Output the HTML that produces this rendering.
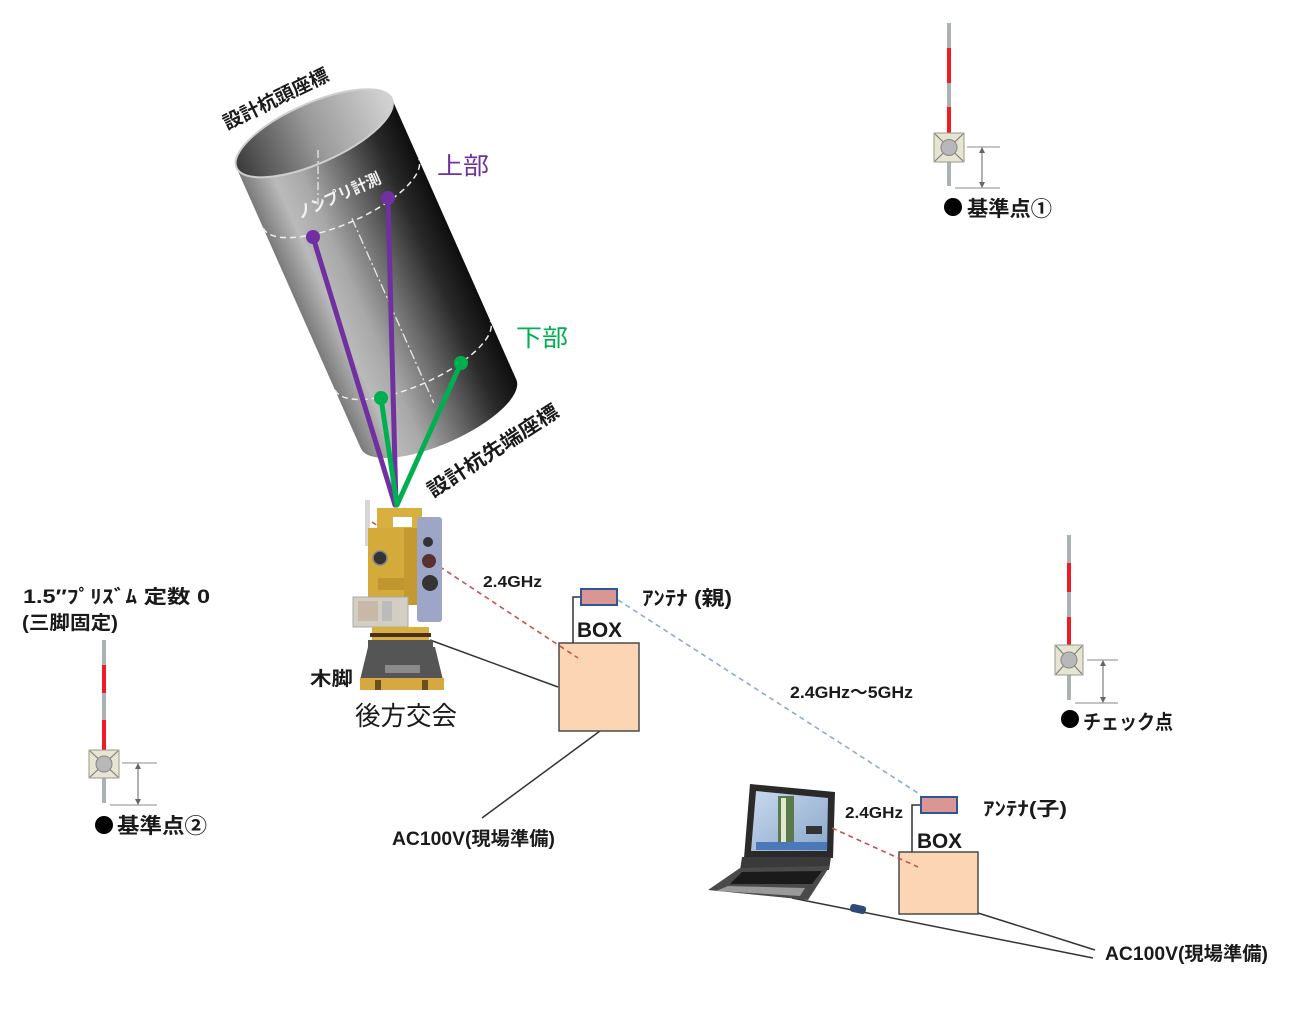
<!DOCTYPE html>
<html><head><meta charset="utf-8"><style>
html,body{margin:0;padding:0;background:#fff;}
svg{display:block;}
text{font-family:"Liberation Sans","Noto Sans CJK JP",sans-serif;}
</style></head><body>
<svg width="1298" height="1012" viewBox="0 0 1298 1012" xmlns="http://www.w3.org/2000/svg">
<defs>
<linearGradient id="body" gradientUnits="userSpaceOnUse" x1="-85" y1="0" x2="85" y2="0">
<stop offset="0" stop-color="#7a7a7a"/><stop offset="0.18" stop-color="#bababa"/><stop offset="0.34" stop-color="#a8a8a8"/><stop offset="0.58" stop-color="#6a6a6a"/><stop offset="0.82" stop-color="#2a2a2a"/><stop offset="1" stop-color="#0e0e0e"/>
</linearGradient>
<linearGradient id="inner" gradientUnits="userSpaceOnUse" x1="-85" y1="0" x2="85" y2="0">
<stop offset="0" stop-color="#3a3a3a"/><stop offset="0.5" stop-color="#9a9a9a"/><stop offset="1" stop-color="#d4d4d4"/>
</linearGradient>
<linearGradient id="scr" x1="0" y1="0" x2="1" y2="1">
<stop offset="0" stop-color="#c8d8ec"/><stop offset="1" stop-color="#8aa8cc"/>
</linearGradient>
</defs>

<!-- Cylinder -->
<g transform="translate(377,275) rotate(-23.9)">
<path d="M-85,-155 L-85,152 A85,30 0 0 0 85,152 L85,-155 Z" fill="url(#body)"/>
<ellipse cx="0" cy="-155" rx="85" ry="30" fill="url(#inner)" stroke="#cfcfcf" stroke-width="2"/>
<path d="M-85,-89 A85,30 0 0 0 85,-89" fill="none" stroke="#eeeeee" stroke-width="1.5" stroke-dasharray="6,4"/>
<path d="M-85,88 A85,30 0 0 0 85,88" fill="none" stroke="#eeeeee" stroke-width="1.5" stroke-dasharray="6,4"/>
<line x1="0" y1="-62" x2="0" y2="140" stroke="#e8e8e8" stroke-width="1.3" stroke-dasharray="10,3,2,3"/>
</g>
<line x1="318" y1="150" x2="318" y2="205" stroke="#e8e8e8" stroke-width="1.3" stroke-dasharray="8,3,2,3"/>
<text transform="translate(300,219) rotate(-24)" font-size="16" font-weight="bold" fill="#f2f2f2" textLength="90" lengthAdjust="spacingAndGlyphs">ノンプリ計測</text>

<!-- measurement lines -->
<g stroke-linecap="round">
<line x1="313" y1="237" x2="395" y2="505" stroke="#7030a0" stroke-width="5"/>
<line x1="388" y1="198" x2="396" y2="505" stroke="#7030a0" stroke-width="5"/>
<line x1="381" y1="398" x2="397" y2="505" stroke="#00b050" stroke-width="5"/>
<line x1="461" y1="363" x2="397" y2="505" stroke="#00b050" stroke-width="5"/>
</g>
<circle cx="313" cy="237" r="7" fill="#7030a0"/>
<circle cx="388" cy="198" r="7" fill="#7030a0"/>
<circle cx="381" cy="398" r="7" fill="#00b050"/>
<circle cx="461" cy="363" r="7" fill="#00b050"/>

<!-- cylinder labels -->
<text transform="translate(227,130) rotate(-26)" font-size="19" font-weight="bold" fill="#1a1a1a" textLength="115" lengthAdjust="spacingAndGlyphs">設計杭頭座標</text>
<text transform="translate(433,498) rotate(-33)" font-size="20" font-weight="bold" fill="#1a1a1a" textLength="152" lengthAdjust="spacingAndGlyphs">設計杭先端座標</text>
<text x="437" y="174" font-size="24" fill="#7030a0" textLength="52" lengthAdjust="spacingAndGlyphs">上部</text>
<text x="516" y="346" font-size="24" fill="#00b050" textLength="52" lengthAdjust="spacingAndGlyphs">下部</text>

<!-- BOX1 and cables -->
<line x1="430" y1="640" x2="558" y2="687" stroke="#333" stroke-width="1.5"/>
<line x1="600" y1="731" x2="482" y2="818" stroke="#333" stroke-width="1.5"/>
<rect x="559" y="643" width="80" height="88" fill="#fcd5b4" stroke="#4a4a4a" stroke-width="1.5"/>
<polyline points="581,597 573,597 573,643" fill="none" stroke="#333" stroke-width="1.5"/>
<rect x="581" y="589" width="36" height="16" fill="#d99694" stroke="#2f5597" stroke-width="2"/>
<line x1="372" y1="522" x2="578" y2="658" stroke="#c9504d" stroke-width="1.6" stroke-dasharray="5,4"/>
<line x1="618" y1="600" x2="921" y2="795" stroke="#8eaad2" stroke-width="1.6" stroke-dasharray="5,4"/>

<!-- Total station -->
<rect x="365" y="500" width="5" height="46" fill="#d6d6d6"/>
<rect x="377" y="508" width="45" height="22" fill="#d8b040"/>
<rect x="393" y="517" width="19" height="10" fill="#ffffff"/>
<rect x="368" y="528" width="54" height="77" fill="#d4aa3a"/>
<rect x="404" y="528" width="14" height="77" fill="#c49a30"/>
<circle cx="380" cy="558" r="7" fill="#333" stroke="#888" stroke-width="1.5"/>
<rect x="378" y="578" width="26" height="12" fill="#bf9630"/>
<rect x="417" y="517" width="25" height="105" rx="3" fill="#9ea6c8"/>
<circle cx="428" cy="542" r="5" fill="#333"/>
<circle cx="429" cy="561" r="7" fill="#5a3030"/>
<circle cx="430" cy="583" r="8" fill="#333"/>
<rect x="353" y="597" width="55" height="30" fill="#d2cec4" stroke="#aaa"/>
<rect x="358" y="601" width="20" height="20" fill="#c8b8a8"/>
<rect x="382" y="601" width="10" height="20" fill="#bbb"/>
<rect x="372" y="627" width="57" height="15" fill="#d8b040"/>
<rect x="370" y="633" width="61" height="4" fill="#4a3020"/>
<rect x="368" y="640" width="65" height="7" fill="#555"/>
<polygon points="368,647 435,647 443,680 360,680" fill="#555"/>
<rect x="385" y="665" width="35" height="8" fill="#8a8a8a"/>
<rect x="360" y="678" width="84" height="12" fill="#d8a840"/>
<rect x="375" y="680" width="6" height="10" fill="#6a5020"/>
<rect x="422" y="680" width="6" height="10" fill="#6a5020"/>

<text x="310" y="685" font-size="19" font-weight="bold" fill="#1a1a1a" textLength="43" lengthAdjust="spacingAndGlyphs">木脚</text>
<text x="355" y="725" font-size="26" fill="#1a1a1a" textLength="102" lengthAdjust="spacingAndGlyphs">後方交会</text>

<!-- Texts near BOX1 -->
<text x="483" y="587" font-size="16" font-weight="bold" fill="#1a1a1a" textLength="59" lengthAdjust="spacingAndGlyphs">2.4GHz</text>
<text x="577" y="637" font-size="21" font-weight="bold" fill="#1a1a1a" textLength="45" lengthAdjust="spacingAndGlyphs">BOX</text>
<text x="642" y="605" font-size="20" font-weight="bold" fill="#1a1a1a" textLength="90" lengthAdjust="spacingAndGlyphs">ｱﾝﾃﾅ (親)</text>
<text x="790" y="698" font-size="17" font-weight="bold" fill="#1a1a1a" textLength="123" lengthAdjust="spacingAndGlyphs">2.4GHz〜5GHz</text>
<text x="392" y="845" font-size="19" font-weight="bold" fill="#1a1a1a" textLength="163" lengthAdjust="spacingAndGlyphs">AC100V(現場準備)</text>

<!-- Laptop + BOX2 -->
<line x1="792" y1="898" x2="1093" y2="958" stroke="#333" stroke-width="1.5"/>
<line x1="978" y1="913" x2="1095" y2="950" stroke="#333" stroke-width="1.5"/>
<rect x="850" y="905" width="16" height="8" rx="3" fill="#2f4a7a" transform="rotate(12 858 909)"/>
<polygon points="750,784 835,792 833,858 744,858" fill="#2a2a2a"/>
<polygon points="756,791 828,798 827,851 751,851" fill="url(#scr)"/>
<rect x="778" y="796" width="16" height="54" fill="#5a7a4a"/>
<rect x="781" y="798" width="5" height="50" fill="#e0e8d0"/>
<rect x="756" y="842" width="71" height="8" fill="#4a78b8"/>
<rect x="806" y="826" width="16" height="8" fill="#333"/>
<polygon points="742,857 831,857 829,870 740,870" fill="#3a3a3a"/>
<polygon points="740,868 830,866 808,900 708,890" fill="#4a4a4a"/>
<polygon points="742,872 822,871 812,884 730,884" fill="#1a1a1a"/>
<polygon points="728,886 805,888 800,896 716,891" fill="#9a9a9a"/>

<rect x="899" y="852" width="79" height="62" fill="#fcd5b4" stroke="#4a4a4a" stroke-width="1.5"/>
<polyline points="921,805 912,805 912,852" fill="none" stroke="#333" stroke-width="1.5"/>
<rect x="921" y="797" width="36" height="16" fill="#d99694" stroke="#2f5597" stroke-width="2"/>
<line x1="832" y1="828" x2="918" y2="867" stroke="#c9504d" stroke-width="1.6" stroke-dasharray="5,4"/>
<text x="845" y="818" font-size="16" font-weight="bold" fill="#1a1a1a" textLength="58" lengthAdjust="spacingAndGlyphs">2.4GHz</text>
<text x="917" y="848" font-size="21" font-weight="bold" fill="#1a1a1a" textLength="45" lengthAdjust="spacingAndGlyphs">BOX</text>
<text x="983" y="815" font-size="19" font-weight="bold" fill="#1a1a1a" textLength="84" lengthAdjust="spacingAndGlyphs">ｱﾝﾃﾅ(子)</text>
<text x="1105" y="960" font-size="19" font-weight="bold" fill="#1a1a1a" textLength="163" lengthAdjust="spacingAndGlyphs">AC100V(現場準備)</text>

<!-- Prism 1 (top right) -->
<g>
<line x1="949" y1="23" x2="949" y2="186" stroke="#a9b3b3" stroke-width="4"/>
<line x1="949" y1="48" x2="949" y2="83" stroke="#ee1c24" stroke-width="4"/>
<line x1="949" y1="107" x2="949" y2="133" stroke="#ee1c24" stroke-width="4"/>
<rect x="934" y="133" width="30" height="29" fill="#e6e4d2" stroke="#9a9a8a"/>
<line x1="935" y1="134" x2="963" y2="161" stroke="#777"/><line x1="963" y1="134" x2="935" y2="161" stroke="#777"/>
<circle cx="949" cy="147.5" r="8" fill="#b8b8b8" stroke="#888"/>
<line x1="967" y1="147" x2="1000" y2="147" stroke="#888"/>
<line x1="955" y1="188" x2="1000" y2="188" stroke="#888"/>
<line x1="982" y1="149" x2="982" y2="186" stroke="#666"/>
<polygon points="982,147 979,153 985,153" fill="#666"/><polygon points="982,188 979,182 985,182" fill="#666"/>
<circle cx="953" cy="207" r="9" fill="#000"/>
<text x="967" y="216" font-size="21" font-weight="bold" fill="#1a1a1a" textLength="85" lengthAdjust="spacingAndGlyphs">基準点①</text>
</g>

<!-- Prism 2 (left) -->
<g>
<line x1="104" y1="640" x2="104" y2="803" stroke="#a9b3b3" stroke-width="4"/>
<line x1="104" y1="665" x2="104" y2="693" stroke="#ee1c24" stroke-width="4"/>
<line x1="104" y1="720" x2="104" y2="750" stroke="#ee1c24" stroke-width="4"/>
<rect x="89" y="750" width="30" height="28" fill="#e6e4d2" stroke="#9a9a8a"/>
<line x1="90" y1="751" x2="118" y2="777" stroke="#777"/><line x1="118" y1="751" x2="90" y2="777" stroke="#777"/>
<circle cx="104" cy="764" r="8" fill="#b8b8b8" stroke="#888"/>
<line x1="122" y1="763" x2="157" y2="763" stroke="#888"/>
<line x1="110" y1="805" x2="157" y2="805" stroke="#888"/>
<line x1="138" y1="765" x2="138" y2="803" stroke="#666"/>
<polygon points="138,763 135,769 141,769" fill="#666"/><polygon points="138,805 135,799 141,799" fill="#666"/>
<circle cx="104" cy="825" r="9" fill="#000"/>
<text x="117" y="833" font-size="21" font-weight="bold" fill="#1a1a1a" textLength="90" lengthAdjust="spacingAndGlyphs">基準点②</text>
<text x="23" y="603" font-size="19" font-weight="bold" fill="#1a1a1a" textLength="187" lengthAdjust="spacingAndGlyphs">1.5″ﾌﾟﾘｽﾞﾑ 定数 0</text>
<text x="22" y="629" font-size="19" font-weight="bold" fill="#1a1a1a" textLength="96" lengthAdjust="spacingAndGlyphs">(三脚固定)</text>
</g>

<!-- Prism 3 (check point) -->
<g>
<line x1="1069" y1="535" x2="1069" y2="700" stroke="#a9b3b3" stroke-width="4"/>
<line x1="1069" y1="563" x2="1069" y2="592" stroke="#ee1c24" stroke-width="4"/>
<line x1="1069" y1="617" x2="1069" y2="645" stroke="#ee1c24" stroke-width="4"/>
<rect x="1055" y="645" width="28" height="30" fill="#e6e4d2" stroke="#9a9a8a"/>
<line x1="1056" y1="646" x2="1082" y2="674" stroke="#777"/><line x1="1082" y1="646" x2="1056" y2="674" stroke="#777"/>
<circle cx="1069" cy="660" r="8" fill="#b8b8b8" stroke="#888"/>
<line x1="1087" y1="660" x2="1118" y2="660" stroke="#888"/>
<line x1="1075" y1="703" x2="1118" y2="703" stroke="#888"/>
<line x1="1103" y1="662" x2="1103" y2="701" stroke="#666"/>
<polygon points="1103,660 1100,666 1106,666" fill="#666"/><polygon points="1103,703 1100,697 1106,697" fill="#666"/>
<circle cx="1070" cy="719" r="9" fill="#000"/>
<text x="1083" y="729" font-size="20" font-weight="bold" fill="#1a1a1a" textLength="90" lengthAdjust="spacingAndGlyphs">チェック点</text>
</g>
</svg>
</body></html>
